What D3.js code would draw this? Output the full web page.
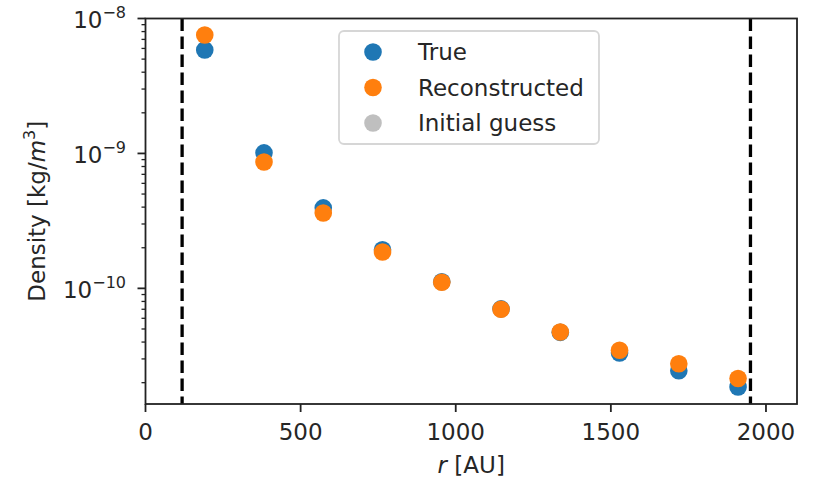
<!DOCTYPE html>
<html>
<head>
<meta charset="utf-8">
<script src="https://cdn.jsdelivr.net/npm/d3@7"></script>
<style>
  html, body { margin: 0; padding: 0; background: #fff; }
  svg text { font-family: "DejaVu Sans", sans-serif; fill: #262626; }
</style>
</head>
<body>
<svg id="chart" width="822" height="481"></svg>
<script>
// Radial positions of the sample points [AU]
const radius = [191, 382, 573, 764, 955, 1146, 1337, 1528, 1719, 1910];
// Density profiles [kg/m^3]
const trueDensity = [5.85e-9, 1.01e-9, 3.95e-10, 1.93e-10, 1.12e-10, 7.05e-11, 4.72e-11, 3.32e-11, 2.45e-11, 1.86e-11];
const reconDensity = [7.55e-9, 8.65e-10, 3.62e-10, 1.86e-10, 1.11e-10, 7.0e-11, 4.75e-11, 3.48e-11, 2.76e-11, 2.15e-11];
// Radial boundaries of the model domain [AU]
const boundaries = [118, 1950];
// Axis ticks
const xTicks = [0, 500, 1000, 1500, 2000];
const yTickExponents = [-8, -9, -10];
// Legend entries
const legendLabels = ["True", "Reconstructed", "Initial guess"];
const legendColors = ["#1f77b4", "#ff7f0e", "rgba(127,127,127,0.5)"];

const svg = d3.select("#chart");
const plotLeft = 145.5, plotRight = 797, plotTop = 18.5, plotBottom = 404;

const x = d3.scaleLinear().domain([0, 2100]).range([plotLeft, plotRight]);
const y = d3.scaleLog().domain([1.39e-11, 1e-8]).range([plotBottom, plotTop]);

// Minor log ticks
const minor = [];
for (let e = -11; e <= -9; e++) {
  for (let m = 2; m <= 9; m++) {
    const v = m * Math.pow(10, e);
    if (v >= y.domain()[0] && v <= y.domain()[1]) minor.push(v);
  }
}
svg.append("g").selectAll("line").data(minor).join("line")
  .attr("x1", plotLeft - 4).attr("x2", plotLeft)
  .attr("y1", d => y(d)).attr("y2", d => y(d))
  .attr("stroke", "#222").attr("stroke-width", 1.3);

// Major y ticks and labels
const yMajor = yTickExponents.map(e => Math.pow(10, e));
svg.append("g").selectAll("line").data(yMajor).join("line")
  .attr("x1", plotLeft - 8).attr("x2", plotLeft)
  .attr("y1", d => y(d)).attr("y2", d => y(d))
  .attr("stroke", "#222").attr("stroke-width", 1.8);

const yl = svg.append("g").selectAll("text").data(yTickExponents).join("text")
  .attr("x", 126).attr("y", e => y(Math.pow(10, e)) + 9.5)
  .attr("text-anchor", "end").attr("font-size", 23);
yl.append("tspan").text("10");
yl.append("tspan").attr("font-size", 16).attr("dy", -10)
  .text(e => "\u2212" + Math.abs(e));

// X ticks and labels
svg.append("g").selectAll("line").data(xTicks).join("line")
  .attr("x1", d => x(d)).attr("x2", d => x(d))
  .attr("y1", plotBottom).attr("y2", plotBottom + 8)
  .attr("stroke", "#222").attr("stroke-width", 1.8);
svg.append("g").selectAll("text").data(xTicks).join("text")
  .attr("x", d => x(d)).attr("y", 440)
  .attr("text-anchor", "middle").attr("font-size", 23)
  .text(d => d);

// Domain boundaries
svg.append("g").selectAll("line").data(boundaries).join("line")
  .attr("x1", d => x(d)).attr("x2", d => x(d))
  .attr("y1", plotTop).attr("y2", plotBottom)
  .attr("stroke", "#000").attr("stroke-width", 3.3)
  .attr("stroke-dasharray", "12.5,5.5");

// Scatter series
const pts = svg.append("g");
pts.selectAll("circle.true").data(radius).join("circle")
  .attr("class", "true")
  .attr("cx", d => x(d)).attr("cy", (d, i) => y(trueDensity[i]))
  .attr("r", 8.8).attr("fill", legendColors[0]);
pts.selectAll("circle.recon").data(radius).join("circle")
  .attr("class", "recon")
  .attr("cx", d => x(d)).attr("cy", (d, i) => y(reconDensity[i]))
  .attr("r", 8.8).attr("fill", legendColors[1]);

// Frame
svg.append("rect")
  .attr("x", plotLeft).attr("y", plotTop)
  .attr("width", plotRight - plotLeft).attr("height", plotBottom - plotTop)
  .attr("fill", "none").attr("stroke", "#222").attr("stroke-width", 1.8);

// Legend
const lg = svg.append("g");
lg.append("rect")
  .attr("x", 339).attr("y", 31).attr("width", 260).attr("height", 113)
  .attr("rx", 5).attr("fill", "rgba(255,255,255,0.8)")
  .attr("stroke", "#d6d6d6").attr("stroke-width", 1.8);
const rows = lg.selectAll("g").data(legendLabels).join("g")
  .attr("transform", (d, i) => `translate(0, ${52 + i * 35.5})`);
rows.append("circle").attr("cx", 373).attr("cy", 0).attr("r", 8.8)
  .attr("fill", (d, i) => legendColors[i]);
rows.append("text").attr("x", 418).attr("y", 8)
  .attr("font-size", 23).text(d => d);

// Axis labels
const xlab = svg.append("text")
  .attr("x", (plotLeft + plotRight) / 2).attr("y", 473)
  .attr("text-anchor", "middle").attr("font-size", 23);
xlab.append("tspan").attr("font-style", "italic").text("r");
xlab.append("tspan").text(" [AU]");

const ylab = svg.append("text")
  .attr("transform", `translate(45, ${(plotTop + plotBottom) / 2}) rotate(-90)`)
  .attr("text-anchor", "middle").attr("font-size", 23);
ylab.append("tspan").text("Density [kg/");
ylab.append("tspan").attr("font-style", "italic").text("m");
ylab.append("tspan").attr("font-size", 16).attr("dy", -10).text("3");
ylab.append("tspan").attr("dy", 10).text("]");
</script>
</body>
</html>
